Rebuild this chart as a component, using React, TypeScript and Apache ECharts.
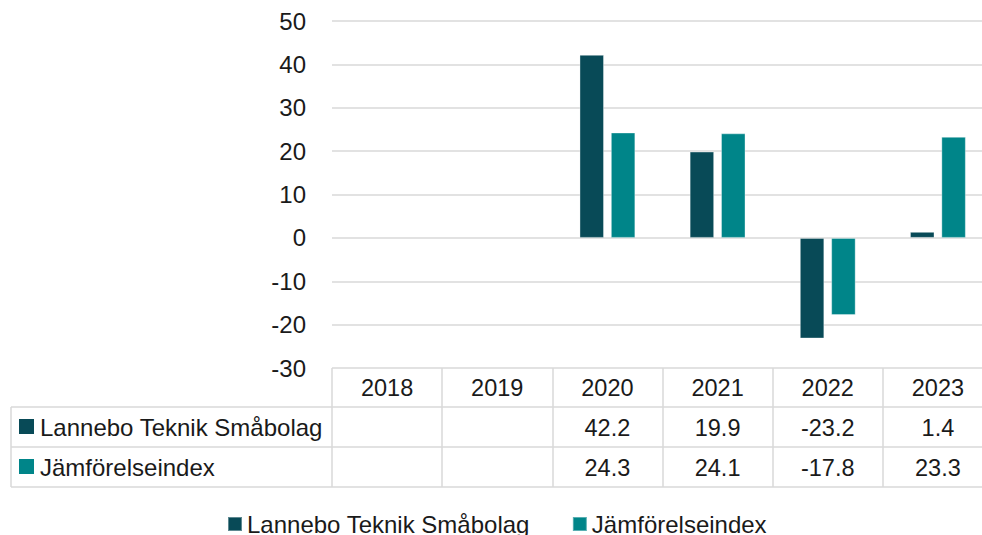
import React, { useEffect, useRef } from "react";
import * as echarts from "echarts";

const years = ["2018", "2019", "2020", "2021", "2022", "2023"];
const seriesNames = ["Lannebo Teknik Småbolag", "Jämförelseindex"];
const lannebo: (number | null)[] = [null, null, 42.2, 19.9, -23.2, 1.4];
const jamforelse: (number | null)[] = [null, null, 24.3, 24.1, -17.8, 23.3];
const yMin = -30;
const yMax = 50;
const yInterval = 10;
const colors = ["#084A57", "#008589"];

const FONT = "'Liberation Sans', Arial, sans-serif";
const TEXT = "#1a1a1a";
const LINE = "#d9d9d9";
const LW = 1.5;

const fmt = (v: number | null) => (v === null || v === undefined ? " " : v.toFixed(1));

export default function App() {
  const ref = useRef<HTMLDivElement>(null);
  useEffect(() => {
    if (!ref.current) return;
    const chart = echarts.init(ref.current, undefined, { renderer: "svg" });
    const allSeries = [lannebo, jamforelse];
    const tableX0 = 11;
    const tableX1 = 1000;
    const rowLines = [407, 447, 487];
    const rowCenters = [427, 467];
    const graphic: any[] = [];
    rowLines.forEach((y) => {
      graphic.push({
        type: "line",
        shape: { x1: tableX0, y1: y, x2: tableX1, y2: y },
        style: { stroke: LINE, lineWidth: LW },
        silent: true,
      });
    });
    graphic.push({
      type: "line",
      shape: { x1: tableX0, y1: rowLines[0], x2: tableX0, y2: rowLines[2] },
      style: { stroke: LINE, lineWidth: LW },
      silent: true,
    });
    seriesNames.forEach((name, i) => {
      graphic.push({
        type: "rect",
        shape: { x: 19, y: rowCenters[i] - 8, width: 15, height: 15 },
        style: { fill: colors[i] },
        silent: true,
      });
      graphic.push({
        type: "text",
        x: 40,
        y: rowCenters[i],
        style: {
          text: name,
          fill: TEXT,
          font: `24px ${FONT}`,
          verticalAlign: "middle",
          align: "left",
        },
        silent: true,
      });
    });

    chart.setOption({
      animation: false,
      backgroundColor: "#ffffff",
      textStyle: { fontFamily: FONT },
      grid: { left: 332, top: 21, width: 661, height: 347, containLabel: false },
      legend: {
        data: seriesNames,
        left: 222,
        top: 507,
        icon: "rect",
        itemWidth: 14,
        itemHeight: 14,
        itemGap: 42,
        textStyle: { fontSize: 24, color: TEXT, fontFamily: FONT },
        selectedMode: false,
      },
      xAxis: {
        type: "category",
        data: years,
        axisLine: { show: false, onZero: false },
        axisTick: {
          show: true,
          interval: 0,
          length: 119,
          lineStyle: { color: LINE, width: LW },
        },
        axisLabel: {
          interval: 0,
          margin: 0,
          formatter: (value: string, idx: number) =>
            `{h|${value}}\n{v|${fmt(allSeries[0][idx])}}\n{v|${fmt(allSeries[1][idx])}}`,
          rich: {
            h: { fontSize: 23.5, lineHeight: 40, height: 40, color: TEXT, fontFamily: FONT, align: "center" },
            v: { fontSize: 23.5, lineHeight: 40, height: 40, color: TEXT, fontFamily: FONT, align: "center" },
          },
        },
        splitLine: { show: false },
      },
      yAxis: {
        type: "value",
        min: yMin,
        max: yMax,
        interval: yInterval,
        axisLine: { show: false },
        axisTick: { show: false },
        axisLabel: { fontSize: 24, color: TEXT, margin: 26, fontFamily: FONT },
        splitLine: { show: true, lineStyle: { color: LINE, width: LW } },
      },
      series: [
        {
          name: seriesNames[0],
          type: "bar",
          data: lannebo,
          barWidth: 24.5,
          barGap: "28%",
          itemStyle: { color: colors[0], borderColor: "rgba(255,255,255,0.35)", borderWidth: 1 },
        },
        {
          name: seriesNames[1],
          type: "bar",
          data: jamforelse,
          barWidth: 24.5,
          barGap: "28%",
          itemStyle: { color: colors[1], borderColor: "rgba(255,255,255,0.35)", borderWidth: 1 },
        },
      ],
      graphic,
    });
    return () => chart.dispose();
  }, []);
  return (
    <div
      style={{
        position: "fixed",
        left: 0,
        top: 0,
        width: 982,
        height: 535,
        overflow: "hidden",
        background: "#fff",
      }}
    >
      <div ref={ref} style={{ width: 1010, height: 535 }} />
    </div>
  );
}
